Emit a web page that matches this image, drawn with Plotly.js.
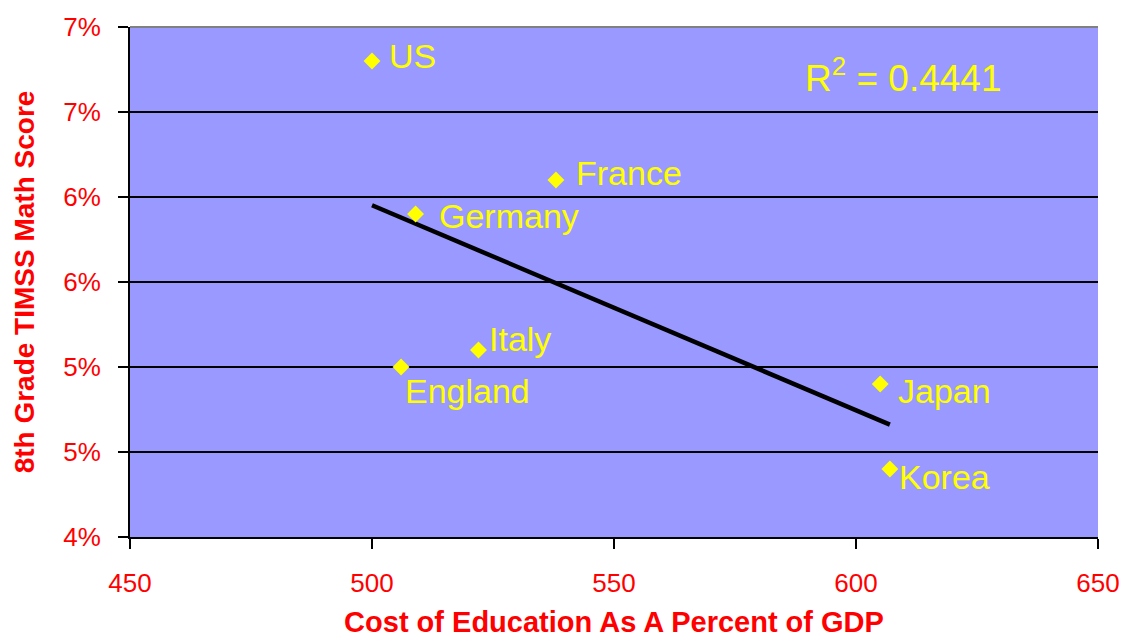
<!DOCTYPE html>
<html>
<head>
<meta charset="utf-8">
<script src="https://cdn.plot.ly/plotly-3.0.1.min.js"></script>
<style>html,body{margin:0;padding:0;background:#fff;}#chart{width:1127px;height:641px;}</style>
</head>
<body>
<div id="chart"></div>
<script>
// Data
const countries = ["US", "France", "Germany", "Italy", "England", "Japan", "Korea"];
const timssScore = [500, 538, 509, 522, 506, 605, 607];
const eduPctGDP = [6.8, 6.1, 5.9, 5.1, 5.0, 4.9, 4.4];
const yTickVals = [4, 4.5, 5, 5.5, 6, 6.5, 7];
const yTickText = ["4%", "5%", "5%", "6%", "6%", "7%", "7%"];
const xTickVals = [450, 500, 550, 600, 650];
const rSquaredText = "R<sup>2</sup> = 0.4441";

// label offsets (pixels) relative to each marker
const labelDX = [15, 18, 21, 9, 2, 16, 7];
const labelDY = [5, 7, -2, 11, -24, -7, -8];

// linear regression trendline
const n = timssScore.length;
const mx = timssScore.reduce((a, b) => a + b, 0) / n;
const my = eduPctGDP.reduce((a, b) => a + b, 0) / n;
let sxy = 0, sxx = 0;
for (let i = 0; i < n; i++) {
  sxy += (timssScore[i] - mx) * (eduPctGDP[i] - my);
  sxx += (timssScore[i] - mx) ** 2;
}
const slope = sxy / sxx;
const intercept = my - slope * mx;
const xMin = Math.min(...timssScore), xMax = Math.max(...timssScore);
const trendX = [xMin, xMax];
const trendY = trendX.map(x => intercept + slope * x);

const FONT = '"Liberation Sans", Arial, sans-serif';

const traces = [
  {
    x: trendX, y: trendY, mode: 'lines', type: 'scatter',
    line: {color: '#000000', width: 4.5}, hoverinfo: 'skip', showlegend: false
  },
  {
    x: timssScore, y: eduPctGDP, mode: 'markers', type: 'scatter',
    marker: {symbol: 'diamond', size: 13, color: '#FFFF00', line: {width: 0}},
    text: countries, showlegend: false
  }
];

const annotations = countries.map((c, i) => ({
  x: timssScore[i], y: eduPctGDP[i], xref: 'x', yref: 'y',
  text: c, showarrow: false, xanchor: 'left', yanchor: 'middle',
  xshift: labelDX[i], yshift: labelDY[i],
  font: {family: FONT, size: 34, color: '#FFFF00'}
}));
annotations.push({
  x: 0.695, y: 0.904, xref: 'paper', yref: 'paper',
  text: rSquaredText, showarrow: false, xanchor: 'left', yanchor: 'middle',
  font: {family: FONT, size: 37, color: '#FFFF00'}
});

const layout = {
  width: 1127, height: 641,
  margin: {l: 130, r: 29, t: 27, b: 104, pad: 0},
  paper_bgcolor: '#ffffff',
  plot_bgcolor: '#9999FF',
  font: {family: FONT},
  showlegend: false,
  xaxis: {
    range: [450, 650], tickvals: xTickVals,
    ticks: 'outside', ticklen: 10, tickwidth: 2, tickcolor: '#000',
    showline: true, linecolor: '#000', linewidth: 2,
    showgrid: false, zeroline: false,
    tickfont: {family: FONT, size: 26, color: '#FF0000'},
    ticklabelstandoff: 12,
    title: {text: 'Cost of Education As A Percent of GDP', standoff: 14,
            font: {family: FONT, size: 29, color: '#FF0000', weight: 'bold'}}
  },
  yaxis: {
    range: [4, 7], tickvals: yTickVals, ticktext: yTickText,
    ticks: 'outside', ticklen: 10, tickwidth: 2, tickcolor: '#000',
    showline: true, linecolor: '#000', linewidth: 2,
    showgrid: true, gridcolor: '#000', gridwidth: 2, zeroline: false,
    tickfont: {family: FONT, size: 26, color: '#FF0000'},
    ticklabelstandoff: 12,
    title: {text: '8th Grade TIMSS Math Score', standoff: 20,
            font: {family: FONT, size: 28, color: '#FF0000', weight: 'bold'}}
  },
  shapes: [
    {type: 'line', xref: 'paper', yref: 'paper', x0: 0, x1: 1, y0: 1, y1: 1,
     line: {color: '#808080', width: 2}, layer: 'above'}
  ],
  annotations: annotations
};

Plotly.newPlot('chart', traces, layout, {displayModeBar: false, staticPlot: true});
</script>
</body>
</html>
